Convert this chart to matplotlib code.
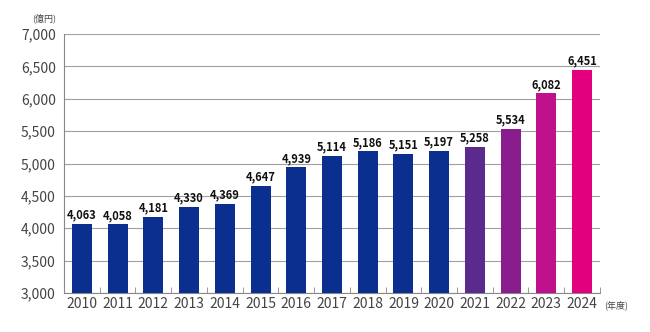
import matplotlib
matplotlib.use('Agg')
import matplotlib.pyplot as plt
import numpy as np

plt.rcParams['font.family'] = ['Noto Sans CJK JP', 'DejaVu Sans']

years = ['2010', '2011', '2012', '2013', '2014', '2015', '2016', '2017',
         '2018', '2019', '2020', '2021', '2022', '2023', '2024']
sales = [4063, 4058, 4181, 4330, 4369, 4647, 4939, 5114,
         5186, 5151, 5197, 5258, 5534, 6082, 6451]
colors = ['#0b2f8f'] * 11 + ['#5a2b8c', '#8a1d8e', '#c0118c', '#e3007f']

fig = plt.figure(figsize=(6.5, 3.32), dpi=100)
ax = fig.add_axes([0.0985, 0.1175, 0.8245, 0.78])

x = np.arange(len(years))
ax.bar(x, sales, width=0.56, color=colors, zorder=3)

for xi, v in zip(x, sales):
    ax.text(xi, v + 40, f'{v:,}', ha='center', va='bottom',
            fontsize=8, fontweight='bold', color='#111111')

ax.set_ylim(3000, 7000)
ax.set_xlim(-0.5, len(years) - 0.5)
ax.set_yticks(np.arange(3000, 7001, 500))
ax.set_yticklabels([f'{t:,}' for t in range(3000, 7001, 500)])
ax.yaxis.grid(True, color='#a0a0a0', linewidth=0.8, zorder=0)
ax.tick_params(axis='y', length=0, labelsize=10, colors='#444444', pad=6)

ax.set_xticks(x)
ax.set_xticklabels(years)
ax.tick_params(axis='x', length=0, labelsize=10, colors='#444444', pad=3)
# small separators between the year columns
ax.set_xticks(np.arange(-0.5, len(years)), minor=True)
ax.tick_params(axis='x', which='minor', length=4, direction='in', color='#888888')

for s in ['top', 'right']:
    ax.spines[s].set_visible(False)
for s in ['left', 'bottom']:
    ax.spines[s].set_color('#888888')
    ax.spines[s].set_linewidth(0.8)

fig.text(0.068, 0.935, '(億円)', fontsize=6.5, color='#444444', ha='center')
fig.text(0.93, 0.072, '(年度)', fontsize=6.5, color='#444444', ha='left')

fig.savefig('out.png', dpi=100)
